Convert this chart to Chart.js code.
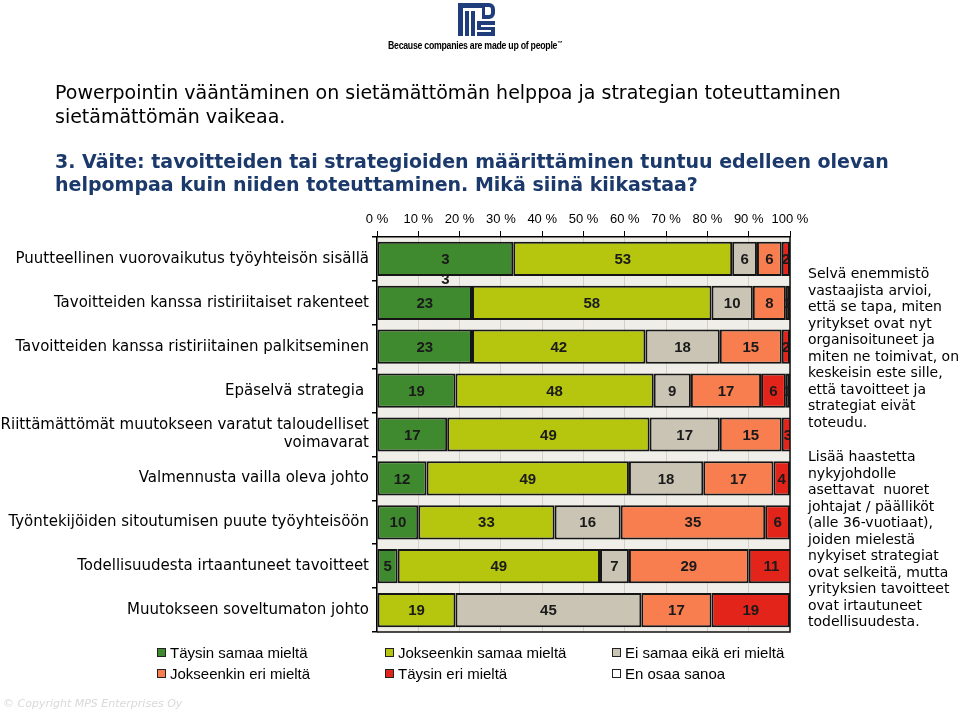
<!DOCTYPE html>
<html>
<head>
<meta charset="utf-8">
<script src="https://cdn.jsdelivr.net/npm/chart.js@4"></script>
<style>
  html, body { margin:0; padding:0; background:#fff; width:960px; height:712px; overflow:hidden; }
  #wrap { position:absolute; left:0; top:0; width:960px; height:712px; }
  canvas { position:absolute; left:0; top:0; }
  .t { position:absolute; white-space:nowrap; font-family:"DejaVu Sans", Verdana, sans-serif; color:#000; }
  .title { font-size:19px; line-height:24px; }
  .bold { font-weight:bold; color:#1b3a6b; }
  .side { font-size:14px; line-height:16.5px; left:808px; }
  .legend { position:absolute; left:0; top:642px; width:960px; font-family:"Liberation Sans", Arial, sans-serif; font-size:15px; }
  .li { position:absolute; height:21px; line-height:21px; white-space:nowrap; }
  .sw { position:absolute; left:0; top:6px; width:7px; height:7px; border:1.5px solid #222; }
  .lt { position:absolute; left:13px; top:0; }
  .tag { position:absolute; left:388px; top:40px; font-family:"Liberation Sans", Arial, sans-serif; font-weight:bold; font-size:10px; letter-spacing:-0.3px; white-space:nowrap; transform:scaleX(0.875); transform-origin:0 0; }
  .copy { position:absolute; left:3px; top:697px; font-family:"DejaVu Sans", Verdana, sans-serif; font-style:italic; font-size:11px; color:#d9d9d9; white-space:nowrap; }
</style>
</head>
<body>
<div id="wrap">
  <canvas id="c" width="960" height="712"></canvas>
  <svg style="position:absolute;left:458px;top:3px" width="37" height="33" viewBox="0 0 37 33">
    <g fill="#1f3d7a">
      <rect x="0" y="0" width="26" height="5"/>
      <rect x="0" y="5" width="5" height="28"/>
      <rect x="7" y="8" width="4" height="25"/>
      <rect x="13" y="8" width="4" height="25"/>
      <path d="M24 0 H31 A6 6 0 0 1 37 6 V10 A6 6 0 0 1 31 16 H24 Z M27 4 V12 H31 A2 2 0 0 0 33 10 V6 A2 2 0 0 0 31 4 Z" fill-rule="evenodd"/>
      <rect x="19" y="18" width="18" height="4"/>
      <rect x="19" y="22" width="4" height="3"/>
      <rect x="19" y="24" width="18" height="3"/>
      <rect x="33" y="27" width="4" height="3"/>
      <rect x="19" y="29" width="18" height="4"/>
    </g>
  </svg>
  <div class="tag">Because companies are made up of people<sup style="font-size:6px">™</sup></div>
  <div class="t title" style="left:55px;top:80px">Powerpointin vääntäminen on sietämättömän helppoa ja strategian toteuttaminen</div>
  <div class="t title" style="left:55px;top:104px">sietämättömän vaikeaa.</div>
  <div class="t title bold" style="left:55px;top:149px">3. Väite: tavoitteiden tai strategioiden määrittäminen tuntuu edelleen olevan</div>
  <div class="t title bold" style="left:55px;top:172px">helpompaa kuin niiden toteuttaminen. Mikä siinä kiikastaa?</div>
  <div class="t side" style="top:265px">Selvä enemmistö<br>vastaajista arvioi,<br>että se tapa, miten<br>yritykset ovat nyt<br>organisoituneet ja<br>miten ne toimivat, on<br>keskeisin este sille,<br>että tavoitteet ja<br>strategiat eivät<br>toteudu.</div>
  <div class="t side" style="top:448px">Lisää haastetta<br>nykyjohdolle<br>asettavat&nbsp; nuoret<br>johtajat / päälliköt<br>(alle 36-vuotiaat),<br>joiden mielestä<br>nykyiset strategiat<br>ovat selkeitä, mutta<br>yrityksien tavoitteet<br>ovat irtautuneet<br>todellisuudesta.</div>
  <div class="legend" id="legend"></div>
  <div class="copy">© Copyright MPS Enterprises Oy</div>
</div>
<script>
const categories = [
  "Puutteellinen vuorovaikutus työyhteisön sisällä",
  "Tavoitteiden kanssa ristiriitaiset rakenteet",
  "Tavoitteiden kanssa ristiriitainen palkitseminen",
  "Epäselvä strategia ",
  ["Riittämättömät muutokseen varatut taloudelliset", "voimavarat"],
  "Valmennusta vailla oleva johto",
  "Työntekijöiden sitoutumisen puute työyhteisöön",
  "Todellisuudesta irtaantuneet tavoitteet",
  "Muutokseen soveltumaton johto"
];
const seriesNames = ["Täysin samaa mieltä", "Jokseenkin samaa mieltä", "Ei samaa eikä eri mieltä",
                     "Jokseenkin eri mieltä", "Täysin eri mieltä", "En osaa sanoa"];
const taysinSamaa     = [33, 23, 23, 19, 17, 12, 10, 5, 0];
const jokseenkinSamaa = [53, 58, 42, 48, 49, 49, 33, 49, 19];
const eiSamaaEikaEri  = [6, 10, 18, 9, 17, 18, 16, 7, 45];
const jokseenkinEri   = [6, 8, 15, 17, 15, 17, 35, 29, 17];
const taysinEri       = [2, 1, 2, 6, 3, 4, 6, 11, 19];
const enOsaaSanoa     = [0, 0, 0, 1, 0, 1, 0, 0, 0];
const tickValues = [0, 10, 20, 30, 40, 50, 60, 70, 80, 90, 100];
// label text as shown on the original slide where it differs from the value
const shownLabels = { "0,0": ["3", "3"] };

const colors = ["#3f8a2f", "#b6c60f", "#c9c4b4", "#f87d4f", "#e3241a", "#ffffff"];
const seriesData = [taysinSamaa, jokseenkinSamaa, eiSamaaEikaEri, jokseenkinEri, taysinEri, enOsaaSanoa];

const bgPlugin = {
  id: 'bg',
  beforeDraw(chart) {
    const { ctx, chartArea: a } = chart;
    ctx.save();
    ctx.fillStyle = '#f0eee9';
    ctx.fillRect(a.left, a.top, a.right - a.left, a.bottom - a.top);
    ctx.restore();
  }
};
const labelPlugin = {
  id: 'vals',
  afterDatasetsDraw(chart) {
    const { ctx, chartArea: a } = chart;
    ctx.save();
    ctx.beginPath();
    ctx.rect(a.left, a.top, a.right - a.left, a.bottom - a.top);
    ctx.clip();
    ctx.font = 'bold 15px "Liberation Sans", Arial, sans-serif';
    ctx.fillStyle = '#1a1a1a';
    ctx.textAlign = 'center';
    ctx.textBaseline = 'middle';
    chart.data.datasets.forEach((ds, i) => {
      const meta = chart.getDatasetMeta(i);
      meta.data.forEach((bar, j) => {
        const v = ds.data[j];
        if (!v) return;
        const p = bar.getProps(['x', 'y', 'base'], true);
        const cx = (p.x + p.base) / 2;
        const lines = shownLabels[i + ',' + j] || [String(v)];
        lines.forEach((t, k) => ctx.fillText(t, cx, p.y + 1 + k * 20));
      });
    });
    ctx.restore();
    // frame
    ctx.save();
    ctx.strokeStyle = '#111';
    ctx.lineWidth = 1.5;
    ctx.beginPath();
    ctx.moveTo(a.right, a.top); ctx.lineTo(a.right, a.bottom); ctx.lineTo(a.left, a.bottom);
    ctx.stroke();
    ctx.restore();
  }
};

const chart = new Chart(document.getElementById('c'), {
  type: 'bar',
  data: {
    labels: categories,
    datasets: seriesNames.map((n, i) => ({
      label: n,
      data: seriesData[i],
      backgroundColor: colors[i],
      borderColor: '#151515',
      borderWidth: 2,
      borderSkipped: false,
      barPercentage: 0.78,
      categoryPercentage: 1
    }))
  },
  options: {
    indexAxis: 'y',
    responsive: false,
    animation: false,
    events: [],
    layout: { padding: { left: 0, top: 205, right: 170, bottom: 80 } },
    plugins: { legend: { display: false }, tooltip: { enabled: false } },
    scales: {
      x: {
        position: 'top',
        stacked: true,
        min: 0, max: 100,
        afterBuildTicks: s => { s.ticks = tickValues.map(v => ({ value: v })); },
        afterFit: s => { s.height = 32; },
        ticks: {
          callback: v => v + ' %',
          color: '#000',
          font: { family: '"Liberation Sans", Arial, sans-serif', size: 13 },
          padding: 4,
          maxRotation: 0
        },
        grid: { color: '#d3d0c9', lineWidth: 1, tickColor: '#000', tickLength: 6 },
        border: { color: '#000', width: 1.5 }
      },
      y: {
        stacked: true,
        afterFit: s => { s.width = 377; },
        ticks: {
          color: '#000',
          font: { family: '"DejaVu Sans", Verdana, sans-serif', size: 15 },
          padding: 3
        },
        grid: { offset: true, drawOnChartArea: false, tickColor: '#000', tickLength: 5, lineWidth: 1.5 },
        border: { color: '#000', width: 1.5 }
      }
    }
  },
  plugins: [bgPlugin, labelPlugin]
});

// legend built from the chart's datasets, laid out in 3 columns x 2 rows
const legendEl = document.getElementById('legend');
const colX = [157, 385, 612];
chart.data.datasets.forEach((ds, i) => {
  const item = document.createElement('div');
  item.className = 'li';
  item.style.left = colX[i % 3] + 'px';
  item.style.top = (Math.floor(i / 3) * 21) + 'px';
  item.innerHTML = '<span class="sw" style="background:' + ds.backgroundColor + '"></span><span class="lt"></span>';
  item.querySelector('.lt').textContent = ds.label;
  legendEl.appendChild(item);
});
</script>
</body>
</html>
